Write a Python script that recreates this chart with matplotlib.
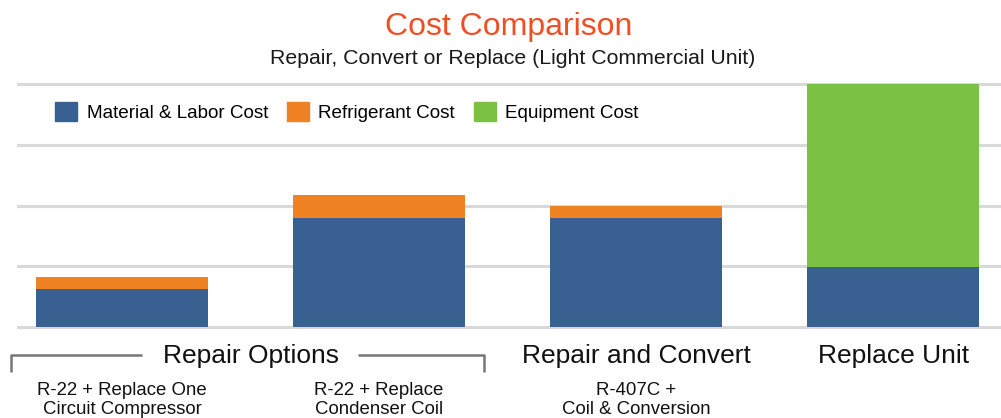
import matplotlib.pyplot as plt
from matplotlib.patches import Patch
from matplotlib.transforms import blended_transform_factory
import numpy as np

plt.rcParams['font.family'] = ['Liberation Sans', 'DejaVu Sans']

# Data (relative cost units; gridlines every 1 unit)
options = ["R-22 + Replace One\nCircuit Compressor", "R-22 + Replace\nCondenser Coil",
           "R-407C +\nCoil & Conversion", ""]
material_labor = [0.62, 1.79, 1.79, 0.98]
refrigerant = [0.20, 0.39, 0.20, 0.0]
equipment = [0.0, 0.0, 0.0, 3.02]
groups = ["Repair Options", "Repair and Convert", "Replace Unit"]
group_centers = [0.5, 2.0, 3.0]
legend_labels = ["Material & Labor Cost", "Refrigerant Cost", "Equipment Cost"]

c_blue = "#386192"
c_orange = "#ef8222"
c_green = "#7bc143"
c_grid = "#d9d9d9"

fig = plt.figure(figsize=(10.01, 4.18), dpi=100)
ax = fig.add_axes([18/1001, 1-327/418, 1-18/1001, 243/418])

x = np.arange(len(material_labor))
w = 0.67
ml = np.array(material_labor)
rf = np.array(refrigerant)
eq = np.array(equipment)
ax.bar(x, ml, w, color=c_blue, zorder=3)
ax.bar(x, rf, w, bottom=ml, color=c_orange, zorder=3)
ax.bar(x, eq, w, bottom=ml + rf, color=c_green, zorder=3)

ax.set_xlim(-0.405, 3.42)
ax.set_ylim(0, 4)
for yv in range(0, 5):
    ax.axhline(yv, color=c_grid, lw=2.2, zorder=1, clip_on=False)
for s in ax.spines.values():
    s.set_visible(False)
ax.set_xticks([])
ax.set_yticks([])

handles = [Patch(color=c) for c in (c_blue, c_orange, c_green)]
ax.legend(handles, legend_labels, ncol=3, loc='center left',
          bbox_to_anchor=(0.0376, 0.885), frameon=False, fontsize=13.6,
          handlelength=1.17, handleheight=1.22, handletextpad=0.5,
          columnspacing=1.0, borderpad=0, borderaxespad=0)

fig.text(0.508, 1-27/418, "Cost Comparison", color="#f04e23", fontsize=23,
         ha='center', va='center')
fig.text(0.512, 1-58/418, "Repair, Convert or Replace (Light Commercial Unit)",
         color="#1a1a1a", fontsize=15.3, ha='center', va='center')

tr = blended_transform_factory(ax.transData, fig.transFigure)
for g, gc in zip(groups, group_centers):
    ax.text(gc, 1-356/418, g, transform=tr, ha='center', va='center',
            fontsize=19, color="#111111")
for xi, lab in zip(x, options):
    if lab:
        ax.text(xi, 1-400/418, lab, transform=tr, ha='center', va='center',
                fontsize=13.4, color="#111111", linespacing=1.1)

# bracket around Repair Options
yb = 1-355/418
yb2 = 1-372/418
bk = dict(color="#777777", lw=1.8, transform=tr, clip_on=False, solid_capstyle='butt')
ax.plot([-0.432, -0.432, 0.078], [yb2, yb, yb], **bk)
ax.plot([0.918, 1.409, 1.409], [yb, yb, yb2], **bk)

fig.savefig("out.png", dpi=100)
